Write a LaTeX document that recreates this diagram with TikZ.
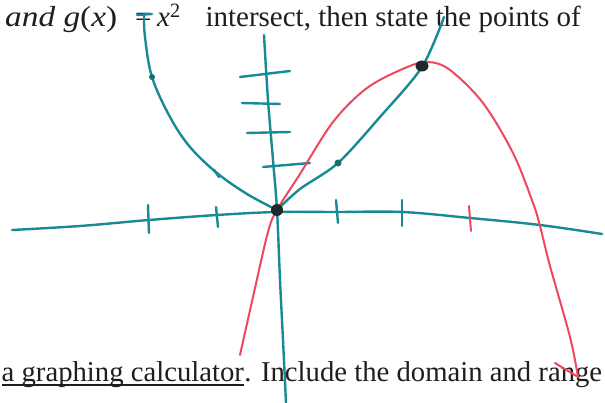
\documentclass[tikz,border=0pt]{standalone}
\usepackage{graphicx}
\usepackage{fontspec}
\setmainfont{Liberation Serif}
\definecolor{teal1}{RGB}{24,138,148}
\definecolor{red1}{RGB}{238,72,96}
\definecolor{ink}{RGB}{30,30,30}
\tikzset{
  tealline/.style={draw=teal1, line width=2.4pt, line cap=round, line join=round},
  redline/.style={draw=red1, line width=2pt, line cap=round, line join=round},
  txt/.style={inner sep=0pt, text=ink, font=\fontsize{29}{34}\selectfont},
  btxt/.style={inner sep=0pt, text=ink, font=\fontsize{28.7}{34}\selectfont},
  bigdot/.style={fill=ink!90!teal1, draw=none},
}
\begin{document}
\begin{tikzpicture}[x=1pt,y=-1pt]
\fill[white] (0,0) rectangle (605,403);
\useasboundingbox (0,0) rectangle (605,403);
\clip (0,0) rectangle (605,403);

% --- printed text ---
\node[txt, anchor=base west] (t1) at (5,27) {\scalebox{1.15}[1]{\textit{and g}(\textit{x})}};
\node[txt, anchor=base west] (t2) at (135,27) {=};
\node[txt, anchor=base west] (t3) at (157,27) {\textit{x}\textsuperscript{2}};
\node[txt, anchor=base east] (t4) at (581,27) {intersect, then state the points of};
\node[btxt, anchor=base west] (b1) at (1.5,381) {a graphing calculator};
\node[btxt, anchor=base west] (b2) at (b1.base east) {. Include the domain and range};
\draw[ink, line width=1.2pt] ([yshift=-4pt]b1.base west) -- ([yshift=-4pt]b1.base east);

% --- x axis ---
\draw[tealline] plot[smooth, tension=0.6] coordinates {(12,230) (80,226) (149,220) (217,215) (277,212) (337,212) (402,212) (470,218) (540,225) (602,234)};
% --- y axis ---
\draw[tealline] plot[smooth, tension=0.6] coordinates {(264,35) (268,100) (273,160) (277,210) (280,280) (283,340) (286,403)};

% x ticks
\draw[tealline] (148,205) -- (149,233);
\draw[tealline] (216,207) -- (218,227);
\draw[tealline] (336,200) -- (338,223);
\draw[tealline] (402,200) -- (402,226);
\draw[redline] (469,206) -- (471,231);
% y ticks
\draw[tealline] (240,77) -- (290,71);
\draw[tealline] (242,103) -- (280,104);
\draw[tealline] (247,133) -- (290,132);
\draw[tealline] (263,167) -- (310,163);

% --- red curve ---
\draw[redline] plot[smooth, tension=0.55] coordinates {(240,355) (253,297) (268,232) (277,210) (300,174) (333,122) (367,88) (405,68) (428,62) (450,70) (483,103) (513,153) (533,203) (540,226) (550,266) (570,337) (578,377)};
\draw[redline] (555,363) -- (578,377);

% --- teal parabola, left ---
\draw[tealline] (137,15) -- (152,14);
\draw[tealline] plot[smooth, tension=0.6] coordinates {(144,15) (145,37) (152,77) (170,117) (190,147) (217,173) (247,194) (277,210)};
\draw[tealline] (214,170) -- (219,177);
% --- teal line, right ---
\draw[tealline] plot[smooth, tension=0.5] coordinates {(277,210) (300,189) (338,163) (380,117) (422,67) (444,17)};

% points
\fill[teal1!80!black] (152,77) circle (3);
\fill[teal1!80!black] (338,163) circle (3.5);
\fill[bigdot] (277,210) circle (6);
\fill[bigdot] (422,66) ellipse (6.5 and 5.5);
\end{tikzpicture}
\end{document}
